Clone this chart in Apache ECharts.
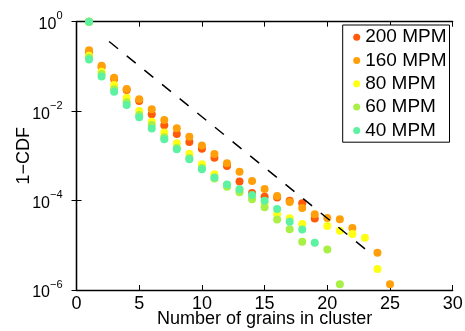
<!DOCTYPE html>
<html>
<head>
<meta charset="utf-8">
<script src="https://cdn.jsdelivr.net/npm/echarts@6/dist/echarts.min.js"></script>
<style>html,body{margin:0;padding:0;background:#fff}#c{width:465px;height:331px}</style>
</head>
<body>
<div id="c"></div>
<script>
// x positions (number of grains); x=1 appears twice (1-CDF = 1 and the next value)
var xs = [1, 1, 2, 3, 4, 5, 6, 7, 8, 9, 10, 11, 12, 13, 14, 15, 16, 17, 18, 19, 20, 21, 22, 23, 24, 25];
var seriesNames = ['200 MPM', '160 MPM', '80 MPM', '60 MPM', '40 MPM'];
var seriesColors = ['#FF5A0A', '#FFA00A', '#FFFF14', '#A8F046', '#5CF2A2'];
var mpm200 = [1, 0.207, 0.097, 0.052, 0.0297, 0.0169, 0.0085, 0.00482, 0.00308, 0.00204, 0.00145, 0.00091, 0.00059, 0.000267, 0.000148, 0.000122, 0.000117, 0.000099, 0.000087, 0.0000395, null, null, null, null, null, null];
var mpm160 = [1, 0.23, 0.104, 0.056, 0.0313, 0.0184, 0.011, 0.00634, 0.00413, 0.00267, 0.00171, 0.0011, 0.00068, 0.000443, 0.000274, 0.000182, 0.000127, 0.000093, 0.000068, 0.0000495, 0.0000407, 0.0000381, 0.0000244, null, 0.0000068, 0.00000134];
var mpm80 = [1, 0.174, 0.0762, 0.0384, 0.020, 0.0101, 0.0058, 0.00333, 0.00191, 0.00112, 0.00065, 0.000387, 0.000223, 0.000172, 0.000127, 0.000088, 0.000050, 0.000040, 0.000030, null, 0.000027, 0.000021, 0.0000179, 0.0000148, 0.00000295, null];
var mpm60 = [1, 0.157, 0.0677, 0.0308, 0.0158, 0.0082, 0.0049, 0.0026, 0.0015, 0.000895, 0.000535, 0.000312, 0.000204, 0.000153, 0.000107, 0.000071, 0.0000378, 0.0000228, 0.000012, null, 0.0000081, 0.00000134, null, null, null, null];
var mpm40 = [1, 0.143, 0.0595, 0.0272, 0.0137, 0.00728, 0.00409, 0.00236, 0.0014, 0.00084, 0.0005, 0.000328, 0.000229, 0.00018, 0.000133, 0.000099, 0.000065, 0.0000337, 0.0000225, 0.0000114, null, null, null, null, null, null];
var refLineX = [2.6, 23.7];
var refLineY = [0.36, 0.0000058];
var xTicks = [0, 5, 10, 15, 20, 25, 30];

var allSeries = [mpm200, mpm160, mpm80, mpm60, mpm40];
var FONT = 'Liberation Sans, Arial, Helvetica, sans-serif';

function pairs(vals) {
  var out = [];
  for (var i = 0; i < xs.length; i++) if (vals[i] != null) out.push([xs[i], vals[i]]);
  return out;
}
var series = seriesNames.map(function (n, i) {
  return {
    name: n, type: 'scatter', symbol: 'circle', symbolSize: 8,
    itemStyle: { color: seriesColors[i], opacity: 1 },
    data: pairs(allSeries[i]), z: 3 + i
  };
});
series.push({
  type: 'line', symbol: 'none', silent: true, z: 10,
  lineStyle: { color: '#000', width: 1.5, type: [11.5, 11.2] },
  data: refLineX.map(function (x, i) { return [x, refLineY[i]]; })
});

function supLabel(v) {
  var e = Math.round(Math.log10(v));
  return '{b|10}{s|' + (e === 0 ? '0' : '\u2212' + (-e)) + '}';
}

var axisLine = { show: true, lineStyle: { color: '#000', width: 1.3 } };
var tick = { show: true, inside: true, length: 5, lineStyle: { color: '#000', width: 1 } };

var option = {
  animation: false,
  backgroundColor: '#fff',
  grid: { left: 76.5, right: 12.3, top: 21.7, bottom: 41, containLabel: false, outerBoundsMode: 'none' },
  legend: {
    data: seriesNames, orient: 'vertical', left: 342.7, top: 25,
    padding: [2.7, 3, 2.3, 10.5], itemGap: 4.3,
    icon: 'circle', itemWidth: 7, itemHeight: 7,
    backgroundColor: '#fff', borderColor: '#000', borderWidth: 1, borderRadius: 0,
    textStyle: { fontFamily: FONT, fontSize: 19, color: '#000', lineHeight: 18 }
  },
  xAxis: [{
    type: 'value', min: xTicks[0], max: xTicks[xTicks.length - 1], interval: 5,
    axisLine: axisLine, axisTick: tick, splitLine: { show: false },
    axisLabel: { fontFamily: FONT, fontSize: 18, color: '#000', margin: 5 },
    name: 'Number of grains in cluster', nameLocation: 'middle', nameGap: 20, nameMoveOverlap: false,
    nameTextStyle: { fontFamily: FONT, fontSize: 18, color: '#000' }
  }, {
    type: 'value', position: 'top', min: 0, max: 30, interval: 5,
    axisLine: axisLine, axisTick: tick, axisLabel: { show: false }, splitLine: { show: false }
  }],
  yAxis: [{
    type: 'log', logBase: 10, min: 0.000001, max: 1, interval: 2,
    axisLine: axisLine, axisTick: tick, splitLine: { show: false },
    minorTick: { show: false },
    axisLabel: {
      formatter: supLabel, margin: 14,
      rich: {
        b: { fontFamily: FONT, fontSize: 16, color: '#000', verticalAlign: 'bottom', lineHeight: 22 },
        s: { fontFamily: FONT, fontSize: 11, color: '#000', verticalAlign: 'top', lineHeight: 12 }
      }
    },
    name: '1\u2212CDF', nameLocation: 'middle', nameGap: 43, nameMoveOverlap: false,
    nameTextStyle: { fontFamily: FONT, fontSize: 18, color: '#000' }
  }, {
    type: 'log', logBase: 10, min: 0.000001, max: 1, interval: 2, position: 'right',
    axisLine: axisLine, axisTick: tick, axisLabel: { show: false }, splitLine: { show: false }
  }],
  series: series
};
var chart = echarts.init(document.getElementById('c'), null, { renderer: 'canvas' });
chart.setOption(option);
</script>
</body>
</html>
